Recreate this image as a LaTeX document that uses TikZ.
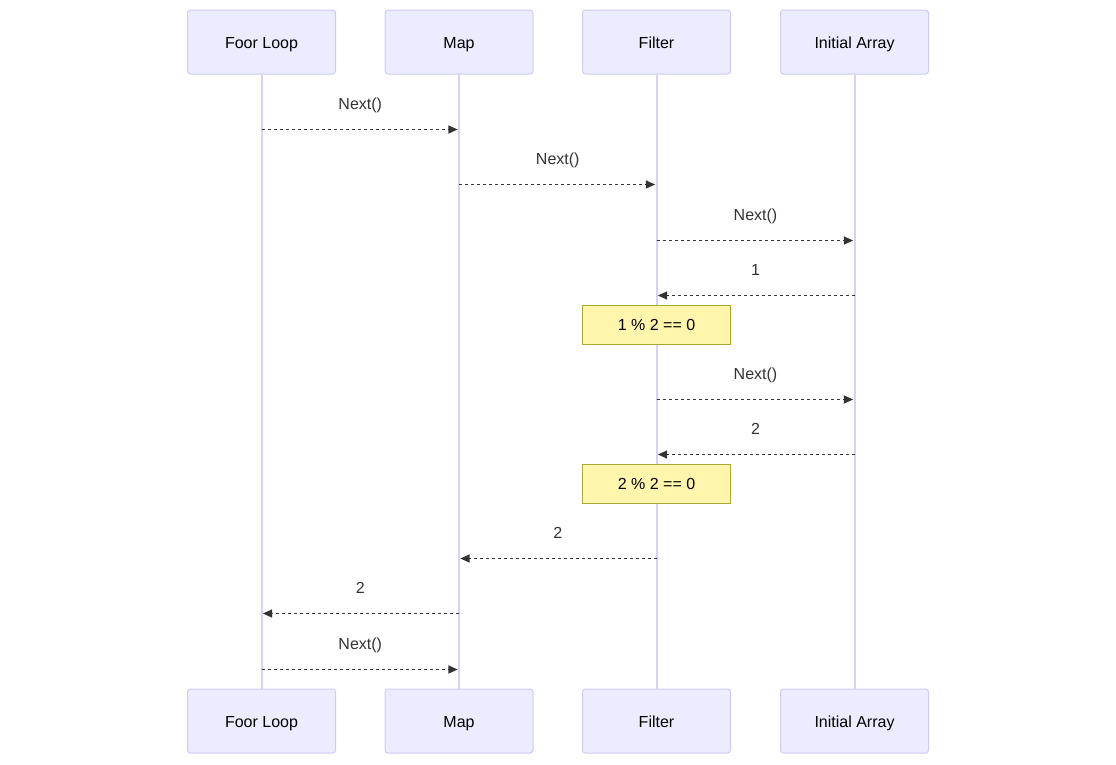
\documentclass[tikz,border=0pt]{standalone}
\usepackage{fontspec}
\setmainfont{Liberation Sans}
\usetikzlibrary{arrows.meta, positioning}

\definecolor{actorfill}{HTML}{ECECFF}
\definecolor{actoredge}{HTML}{CFCBF5}
\definecolor{lifecol}{HTML}{DAD0F3}
\definecolor{notefill}{HTML}{FFF5AD}
\definecolor{noteedge}{HTML}{AAAA33}
\definecolor{msgcol}{HTML}{333333}

\begin{document}
\begin{tikzpicture}[x=0.75pt, y=-0.75pt,
		actor/.style={draw=actoredge, fill=actorfill, rounded corners=2.25pt, line width=0.75pt,
					  minimum width=111pt, minimum height=48pt, text height=10.1pt, text depth=0.9pt,
					  font=\fontsize{12}{14}\selectfont},
		note/.style={draw=noteedge, fill=notefill, line width=0.75pt, text height=10.1pt, text depth=0.9pt,
					 minimum width=111pt, minimum height=29.25pt, font=\fontsize{12}{14}\selectfont},
		life/.style={draw=lifecol, line width=1.5pt},
		msg/.style={draw=msgcol, line width=1.1pt, dash pattern=on 2.25pt off 2.25pt,
					-{Triangle[length=7pt, width=6pt]}, shorten >=1pt},
		lbl/.style={midway, yshift=19.5pt, text=msgcol, text height=10.1pt, text depth=0.9pt,
					font=\fontsize{12}{14}\selectfont}]
				% page
				\fill[white] (0,0) rectangle (1116,764);

				% Draw the participants
				\node[actor] (loopT) at (261.5,42) {Foor Loop};
				\node[actor] (mapT) at (459,42) {Map};
				\node[actor] (filterT) at (656.5,42) {Filter};
				\node[actor] (arrayT) at (854.5,42) {Initial Array};

				\node[actor] (loopB) at (261.5,721) {Foor Loop};
				\node[actor] (mapB) at (459,721) {Map};
				\node[actor] (filterB) at (656.5,721) {Filter};
				\node[actor] (arrayB) at (854.5,721) {Initial Array};

				\draw[life] (loopT) -- (loopB);
				\draw[life] (mapT) -- (mapB);
				\draw[life] (filterT) -- (filterB);
				\draw[life] (arrayT) -- (arrayB);

				% message rows
				\coordinate (m1) at (0,129.5);
				\coordinate (m2) at (0,184.5);
				\coordinate (m3) at (0,240.5);
				\coordinate (m4) at (0,295.5);
				\coordinate (m5) at (0,399.5);
				\coordinate (m6) at (0,454.5);
				\coordinate (m7) at (0,558.5);
				\coordinate (m8) at (0,613.5);
				\coordinate (m9) at (0,669.5);

				\draw[msg] (loopT |- m1) -- node[lbl] {Next()} (mapT |- m1);
				\draw[msg] (mapT |- m2) -- node[lbl] {Next()} (filterT |- m2);
				\draw[msg] (filterT |- m3) -- node[lbl] {Next()} (arrayT |- m3);
				\draw[msg] (arrayT |- m4) -- node[lbl] {1} (filterT |- m4);

				\node[note] (check1) at (656.5,324.5) {1 \% 2 == 0};

				\draw[msg] (filterT |- m5) -- node[lbl] {Next()} (arrayT |- m5);
				\draw[msg] (arrayT |- m6) -- node[lbl] {2} (filterT |- m6);

				\node[note] (check2) at (656.5,483.5) {2 \% 2 == 0};

				\draw[msg] (filterT |- m7) -- node[lbl] {2} (mapT |- m7);
				\draw[msg] (mapT |- m8) -- node[lbl] {2} (loopT |- m8);
				\draw[msg] (loopT |- m9) -- node[lbl] {Next()} (mapT |- m9);

\end{tikzpicture}
\end{document}
